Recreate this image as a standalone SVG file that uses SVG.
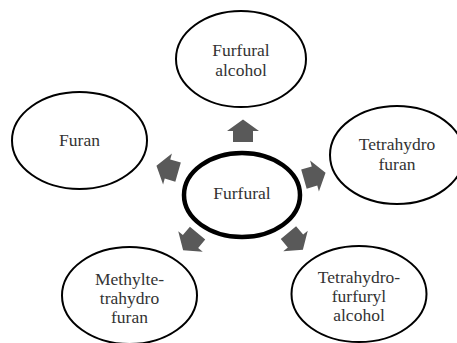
<svg xmlns="http://www.w3.org/2000/svg" width="457" height="343" viewBox="0 0 457 343">
<style>
.sat{fill:#fff;stroke:#000;stroke-width:2}
.ctr{fill:#fff;stroke:#000;stroke-width:4.5}
.t{font-family:'Liberation Serif','DejaVu Serif',serif;font-size:17.5px;fill:#333333;text-anchor:middle}
.arr{fill:#595959}
</style>
<defs>
<path id="ar" d="M-11,-10 L0,-10 L0,-16 L11.5,0 L0,16 L0,10 L-11,10 Z"/>
</defs>
<rect width="457" height="343" fill="#fff"/>
<g id="connectors">
<use href="#ar" class="arr" transform="translate(243,131) rotate(-90)"/>
<use href="#ar" class="arr" transform="translate(314.5,176) rotate(-16)"/>
<use href="#ar" class="arr" transform="translate(295.5,241) rotate(50)"/>
<use href="#ar" class="arr" transform="translate(190.5,241.5) rotate(130)"/>
<use href="#ar" class="arr" transform="translate(167.5,169) rotate(196)"/>
</g>
<g id="furfural-alcohol">
<ellipse class="sat" cx="241" cy="59" rx="65" ry="48"/>
<text class="t" font-family="Liberation Serif, serif" x="241" y="55.5">Furfural</text>
<text class="t" font-family="Liberation Serif, serif" x="241" y="75.5">alcohol</text>
</g>
<g id="tetrahydrofuran">
<ellipse class="sat" cx="397" cy="155" rx="67" ry="49"/>
<text class="t" font-family="Liberation Serif, serif" x="397" y="149.5">Tetrahydro</text>
<text class="t" font-family="Liberation Serif, serif" x="397" y="169.5">furan</text>
</g>
<g id="thfa">
<ellipse class="sat" cx="359" cy="294" rx="67.5" ry="48"/>
<text class="t" font-family="Liberation Serif, serif" x="359" y="283">Tetrahydro-</text>
<text class="t" font-family="Liberation Serif, serif" x="359" y="302">furfuryl</text>
<text class="t" font-family="Liberation Serif, serif" x="359" y="321">alcohol</text>
</g>
<g id="methylthf">
<ellipse class="sat" cx="129.5" cy="295.5" rx="67.5" ry="48.5"/>
<text class="t" font-family="Liberation Serif, serif" x="129.5" y="284.5">Methylte-</text>
<text class="t" font-family="Liberation Serif, serif" x="129.5" y="303.5">trahydro</text>
<text class="t" font-family="Liberation Serif, serif" x="129.5" y="322.5">furan</text>
</g>
<g id="furan">
<ellipse class="sat" cx="79.5" cy="140.5" rx="67.5" ry="48.5"/>
<text class="t" font-family="Liberation Serif, serif" x="79.5" y="146">Furan</text>
</g>
<g id="furfural">
<ellipse class="ctr" cx="242" cy="195" rx="58" ry="42"/>
<text class="t" font-family="Liberation Serif, serif" x="242" y="199">Furfural</text>
</g>
</svg>
